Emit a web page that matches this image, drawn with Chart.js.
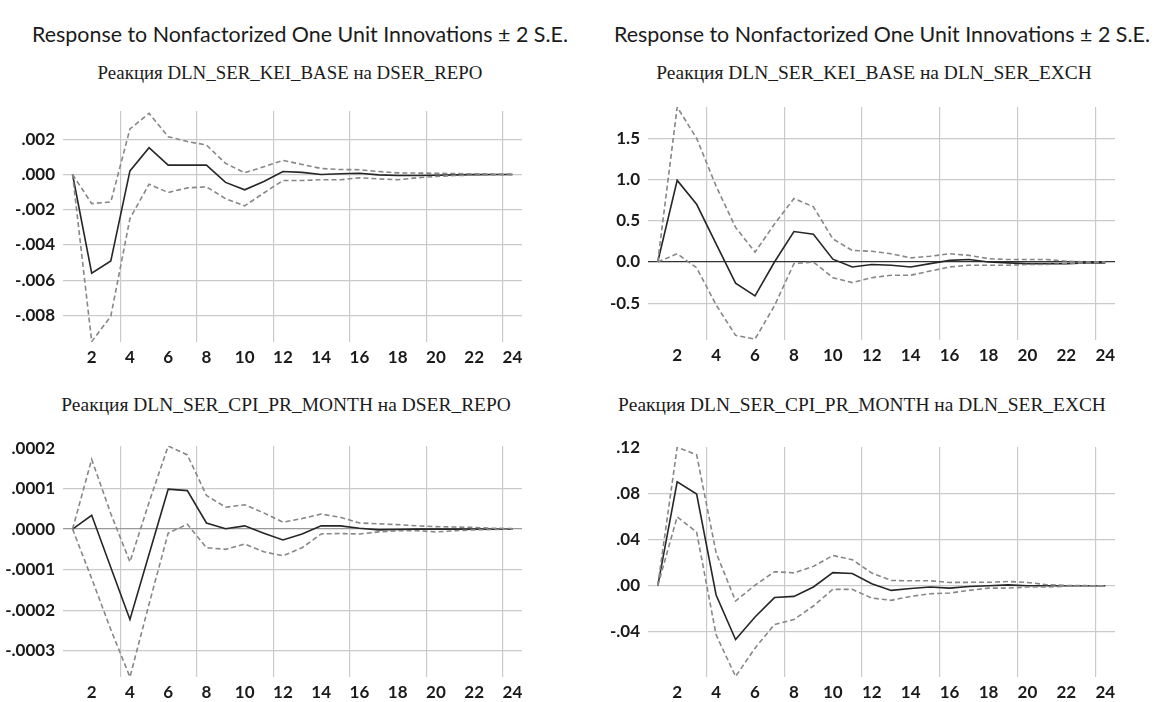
<!DOCTYPE html>
<html>
<head>
<meta charset="utf-8">
<script src="https://cdn.jsdelivr.net/npm/chart.js@4.4.0/dist/chart.umd.min.js"></script>
<style>
  body { margin: 0; width: 1156px; height: 702px; background: #fff; position: relative; overflow: hidden; }
  .box { position: absolute; }
  .title { position: absolute; white-space: nowrap; color: #1b1b1b; line-height: 1; }
  .main { font-family: Lato, "Open Sans", sans-serif; font-size: 23px; }
  .sub { font-family: "Liberation Serif", "Times New Roman", serif; font-size: 20px; }
</style>
</head>
<body>

<div class="title main" data-cx="300" data-cy="35" data-w="536">Response to Nonfactorized One Unit Innovations ± 2 S.E.</div>
<div class="title main" data-cx="882" data-cy="35" data-w="536">Response to Nonfactorized One Unit Innovations ± 2 S.E.</div>

<div class="title sub" data-cx="290" data-cy="73" data-w="385">Реакция DLN_SER_KEI_BASE на DSER_REPO</div>
<div class="title sub" data-cx="874" data-cy="73" data-w="436">Реакция DLN_SER_KEI_BASE на DLN_SER_EXCH</div>
<div class="title sub" data-cx="286" data-cy="405" data-w="450">Реакция DLN_SER_CPI_PR_MONTH на DSER_REPO</div>
<div class="title sub" data-cx="862" data-cy="405" data-w="488">Реакция DLN_SER_CPI_PR_MONTH на DLN_SER_EXCH</div>

<div class="box" style="left:0px;top:99px;width:534px;height:273px"><canvas id="keiRepoChart"></canvas></div>
<div class="box" style="left:585px;top:95px;width:542px;height:275px"><canvas id="keiExchChart"></canvas></div>
<div class="box" style="left:0px;top:434px;width:534px;height:268px"><canvas id="cpiRepoChart"></canvas></div>
<div class="box" style="left:585px;top:435px;width:542px;height:267px"><canvas id="cpiExchChart"></canvas></div>

<script>
'use strict';

// <------------------ DATA ------------------>

let periods = [1, 2, 3, 4, 5, 6, 7, 8, 9, 10, 11, 12, 13, 14, 15, 16, 17, 18, 19, 20, 21, 22, 23, 24];
let xLabelTicks = [2, 4, 6, 8, 10, 12, 14, 16, 18, 20, 22, 24];
let xGridTicks = [3.5, 7.5, 11.5, 15.5, 19.5, 23.5];

// DLN_SER_KEI_BASE <- DSER_REPO
let keiRepo = [0, -0.0056, -0.0049, 0.0002, 0.00152, 0.00053, 0.00053, 0.00053, -0.00045, -0.00087, -0.0004, 0.00017,
  0.00012, 0.0, 0.00004, 0.00007, -0.00002, -0.00006, -0.00006, -0.00004, -0.00002, -0.00001, 0, 0];
let keiRepoHi = [0, -0.00165, -0.00156, 0.00258, 0.00347, 0.00214, 0.00187, 0.00167, 0.00063, 0.0001, 0.00044, 0.0008,
  0.00057, 0.00034, 0.00028, 0.00027, 0.00017, 0.00009, 0.00008, 0.00007, 0.00005, 0.00004, 0.00003, 0.00002];
let keiRepoLo = [0, -0.00948, -0.00804, -0.0025, -0.00055, -0.00102, -0.00076, -0.0007, -0.00137, -0.00178, -0.00105, -0.00034,
  -0.00034, -0.0003, -0.0003, -0.00019, -0.00025, -0.0003, -0.00019, -0.00011, -0.00006, -0.00004, -0.00002, -0.00001];
let keiRepoTicks = [-0.008, -0.006, -0.004, -0.002, 0, 0.002];

// DLN_SER_KEI_BASE <- DLN_SER_EXCH
let keiExch = [0, 0.99, 0.70, 0.22, -0.256, -0.41, 0.0, 0.37, 0.337, 0.035, -0.06, -0.03,
  -0.04, -0.06, -0.02, 0.02, 0.03, 0.0, -0.01, -0.02, -0.02, -0.02, -0.01, -0.01];
let keiExchHi = [0, 1.88, 1.50, 0.92, 0.42, 0.12, 0.46, 0.77, 0.67, 0.28, 0.14, 0.13,
  0.10, 0.05, 0.07, 0.10, 0.08, 0.04, 0.03, 0.03, 0.03, 0.01, 0.0, 0.0];
let keiExchLo = [0, 0.10, -0.07, -0.52, -0.89, -0.935, -0.53, -0.02, 0.0, -0.19, -0.25, -0.19,
  -0.16, -0.16, -0.11, -0.06, -0.04, -0.04, -0.04, -0.03, -0.03, -0.02, -0.01, -0.005];
let keiExchTicks = [-0.5, 0, 0.5, 1.0, 1.5];

// DLN_SER_CPI_PR_MONTH <- DSER_REPO
let cpiRepo = [0, 0.000034, -0.000095, -0.000223, -0.000062, 0.0000985, 0.000095, 0.000015, 0.000001, 0.000008, -0.00001, -0.000027,
  -0.000012, 0.000008, 0.000008, 0.000002, -0.000002, -0.000001, 0, 0, 0, 0, 0, 0];
let cpiRepoHi = [0, 0.000172, 0.000038, -0.000081, 0.000066, 0.000205, 0.000183, 0.000083, 0.000054, 0.00006, 0.00004, 0.000017,
  0.000026, 0.000037, 0.000029, 0.000015, 0.000013, 0.000011, 0.000008, 0.000006, 0.000005, 0.000004, 0.000002, 0.000001];
let cpiRepoLo = [0, -0.000122, -0.000248, -0.000365, -0.000185, -0.00001, 0.000012, -0.000046, -0.00005, -0.000037, -0.000056, -0.000066,
  -0.000046, -0.000012, -0.000011, -0.000012, -0.000007, -0.000004, -0.000004, -0.000007, -0.000004, -0.000002, -0.000001, 0];
let cpiRepoTicks = [-0.0003, -0.0002, -0.0001, 0, 0.0001, 0.0002];

// DLN_SER_CPI_PR_MONTH <- DLN_SER_EXCH
let cpiExch = [0, 0.090, 0.0794, -0.008, -0.0465, -0.027, -0.0102, -0.0092, -0.001, 0.0114, 0.0107, 0.0017,
  -0.004, -0.0023, -0.0011, -0.002, -0.0006, 0.0, 0.0008, 0.0, 0.0, 0.0, 0.0, 0.0];
let cpiExchHi = [0, 0.120, 0.1135, 0.0286, -0.0132, 0.0005, 0.0122, 0.0112, 0.0168, 0.0262, 0.0226, 0.011,
  0.0046, 0.0043, 0.0043, 0.0029, 0.003, 0.003, 0.0037, 0.0029, 0.0009, 0.0003, 0.0001, 0.0];
let cpiExchLo = [0, 0.0597, 0.0465, -0.0425, -0.0785, -0.054, -0.0335, -0.0292, -0.0175, -0.0031, -0.0031, -0.0106,
  -0.0126, -0.0092, -0.0069, -0.0063, -0.004, -0.002, -0.002, -0.0011, -0.0011, -0.0004, -0.0002, 0.0];
let cpiExchTicks = [-0.04, 0, 0.04, 0.08, 0.12];


// <------------------ TITLES ------------------>

// each title is sized to its width in the picture and centred on its spot
document.querySelectorAll('.title').forEach(function (el) {
  let base = parseFloat(getComputedStyle(el).fontSize);
  let size = base * el.dataset.w / el.getBoundingClientRect().width;
  el.style.fontSize = size.toFixed(2) + 'px';
  let r = el.getBoundingClientRect();
  el.style.left = (el.dataset.cx - r.width / 2) + 'px';
  el.style.top = (el.dataset.cy - r.height / 2) + 'px';
});


// <------------------ HELPERS ------------------>

let gridColor = '#cacaca';
let tickFont = { family: 'Lato', size: 17, weight: 'bold' };

function toPoints(values) {
  return periods.map(function (p, i) { return { x: p, y: values[i] }; });
}

function noLeadingZero(digits) {
  return function (v) {
    let s = Math.abs(v).toFixed(digits).replace(/^0/, '');
    return (v < 0 ? '-' : '') + s;
  };
}

function renderPanel(id, resp, hi, lo, opts) {
  let ctx = document.getElementById(id).getContext('2d');
  let xTicks = xLabelTicks.concat(xGridTicks).sort(function (a, b) { return a - b; });
  let span = opts.max - opts.min;

  new Chart(ctx, {
    type: 'line',
    data: {
      datasets: [
        { data: toPoints(hi), borderColor: '#878787', borderWidth: 1.6, borderDash: [5, 3], pointRadius: 0, tension: 0 },
        { data: toPoints(lo), borderColor: '#878787', borderWidth: 1.6, borderDash: [5, 3], pointRadius: 0, tension: 0 },
        { data: toPoints(resp), borderColor: '#262626', borderWidth: 1.6, pointRadius: 0, tension: 0 }
      ]
    },
    options: {
      animation: false,
      responsive: true,
      maintainAspectRatio: false,
      layout: { padding: { top: 12, right: 12, bottom: 0, left: 0 } },
      plugins: { legend: { display: false }, tooltip: { enabled: false } },
      scales: {
        x: {
          type: 'linear',
          min: 0.5,
          max: 24.5,
          afterBuildTicks: function (s) { s.ticks = xTicks.map(function (v) { return { value: v }; }); },
          afterFit: function (s) { s.height = opts.xHeight; s.paddingLeft = 0; s.paddingRight = 0; },
          ticks: {
            autoSkip: false,
            maxRotation: 0,
            padding: 5,
            font: tickFont,
            color: '#1a1a1a',
            callback: function (v) { return Number.isInteger(v) ? String(v) : ''; }
          },
          grid: {
            drawTicks: false,
            lineWidth: 1.2,
            color: function (c) { return Number.isInteger(c.tick.value) ? 'rgba(0,0,0,0)' : gridColor; }
          },
          border: { display: false }
        },
        y: {
          min: opts.min,
          max: opts.max,
          afterBuildTicks: function (s) { s.ticks = opts.ticks.map(function (v) { return { value: v }; }); },
          afterFit: function (s) { s.width = 63; s.paddingTop = 0; s.paddingBottom = 0; },
          ticks: { padding: 8, font: tickFont, color: '#1a1a1a', callback: opts.format },
          grid: {
            drawTicks: false,
            lineWidth: 1.2,
            color: function (c) {
              let v = c.tick.value;
              if (opts.max - v < span * 0.03) return 'rgba(0,0,0,0)';
              if (Math.abs(v) < span * 1e-6) return opts.zeroColor;
              return gridColor;
            }
          },
          border: { display: false }
        }
      }
    }
  });
}


// <------------------ CHARTS ------------------>

renderPanel('keiRepoChart', keiRepo, keiRepoHi, keiRepoLo,
  { min: -0.0095, max: 0.0036, ticks: keiRepoTicks, format: noLeadingZero(3), zeroColor: gridColor, xHeight: 30 });

renderPanel('keiExchChart', keiExch, keiExchHi, keiExchLo,
  { min: -0.946, max: 1.88, ticks: keiExchTicks, format: function (v) { return v.toFixed(1); }, zeroColor: '#333', xHeight: 30 });

renderPanel('cpiRepoChart', cpiRepo, cpiRepoHi, cpiRepoLo,
  { min: -0.000365, max: 0.000205, ticks: cpiRepoTicks, format: noLeadingZero(4), zeroColor: '#999', xHeight: 25 });

renderPanel('cpiExchChart', cpiExch, cpiExchHi, cpiExchLo,
  { min: -0.079, max: 0.1202, ticks: cpiExchTicks, format: noLeadingZero(2), zeroColor: gridColor, xHeight: 25 });
</script>
</body>
</html>
